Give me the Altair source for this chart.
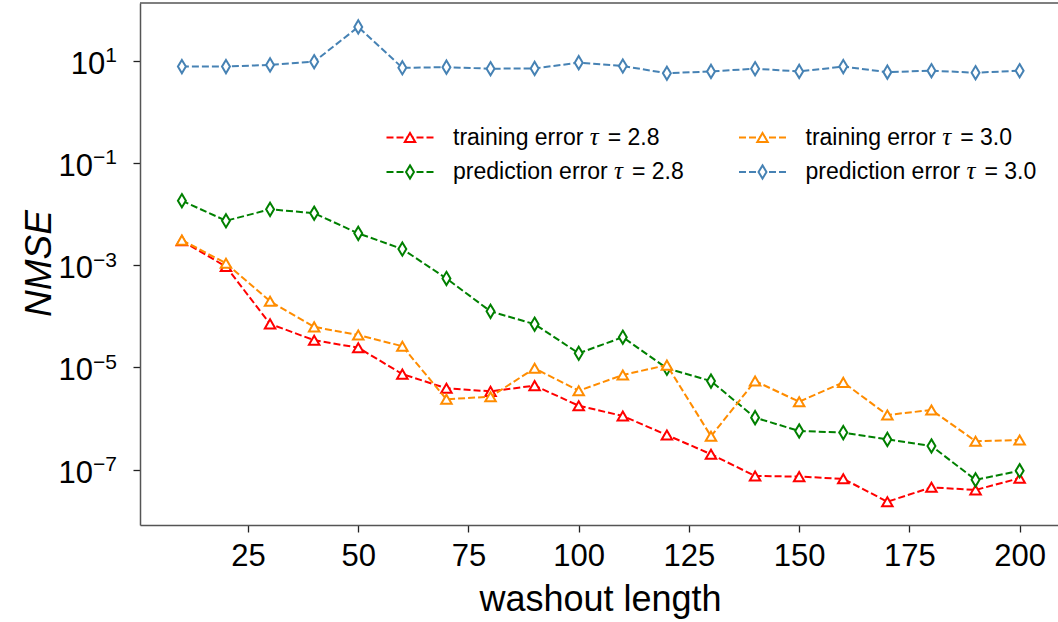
import altair as alt
import pandas as pd

# ---------------- data ----------------
washout = [10, 20, 30, 40, 50, 60, 70, 80, 90, 100,
           110, 120, 130, 140, 150, 160, 170, 180, 190, 200]

train_28 = [3.0e-3, 9.4e-4, 7.1e-5, 3.4e-5, 2.43e-5, 7.4e-6, 3.9e-6, 3.4e-6, 4.4e-6, 1.78e-6,
            1.12e-6, 4.75e-7, 2.0e-7, 7.5e-8, 7.3e-8, 6.6e-8, 2.35e-8, 4.5e-8, 4.0e-8, 6.8e-8]
pred_28 = [1.83e-2, 7.4e-3, 1.24e-2, 1.04e-2, 4.2e-3, 2.07e-3, 5.5e-4, 1.25e-4, 7.0e-5, 1.89e-5,
           3.9e-5, 9.6e-6, 5.4e-6, 1.04e-6, 5.7e-7, 5.3e-7, 3.9e-7, 2.9e-7, 6.3e-8, 9.5e-8]
train_30 = [3.1e-3, 1.09e-3, 1.97e-4, 6.2e-5, 4.3e-5, 2.6e-5, 2.38e-6, 2.67e-6, 9.6e-6, 3.5e-6,
            7.1e-6, 1.11e-5, 4.5e-7, 5.4e-6, 2.13e-6, 5.1e-6, 1.17e-6, 1.47e-6, 3.6e-7, 3.8e-7]
pred_30 = [7.7, 7.7, 8.3, 9.6, 46.0, 7.3, 7.5, 7.0, 7.1, 9.2,
           7.9, 5.7, 6.2, 7.0, 6.2, 7.7, 6.0, 6.4, 5.85, 6.4]

series_prefix = ["training error", "prediction error", "training error", "prediction error"]
series_tau = ["2.8", "2.8", "3.0", "3.0"]
series_values = [train_28, pred_28, train_30, pred_30]
series_colors = ["#ff0000", "#008000", "#ff8c00", "#4682b4"]

x_ticks = [25, 50, 75, 100, 125, 150, 175, 200]
y_tick_exps = [1, -1, -3, -5, -7]

# ---------------- layout ----------------
FONT = "Liberation Sans"
W, H = 918, 522
THIN_DIAMOND = "M0,-1L0.6,0L0,1L-0.6,0Z"
series_shapes = ["triangle-up", THIN_DIAMOND, "triangle-up", THIN_DIAMOND]
series_sizes = [110, 175, 110, 175]

# Arial / Liberation Sans advance widths (em)
ADV = {"t": .278, "r": .333, "a": .556, "i": .222, "n": .556, "g": .556, " ": .278,
       "e": .556, "o": .556, "p": .556, "d": .556, "c": .5, "=": .584, ".": .278}
for ch in "0123456789":
    ADV[ch] = .556


def text_width(s, fs):
    return sum(ADV.get(ch, .556) for ch in s) * fs


x_scale = alt.Scale(domain=[0.5, 208.7], nice=False, zero=False)
y_scale = alt.Scale(type="log", domain=[10 ** -8.084, 10 ** 2.131], nice=False)

x_axis = alt.Axis(values=x_ticks, grid=False, labelFont=FONT, labelFontSize=31,
                  labelColor="black", labelPadding=9, tickSize=7, tickWidth=1.3,
                  tickColor="#222", domainColor="#555", domainWidth=1.5,
                  title="washout length", titleFont=FONT, titleFontSize=36,
                  titleFontWeight="normal", titleColor="black", titleX=460, titleY=85,
                  titleAlign="center", titleBaseline="alphabetic")
y_axis = alt.Axis(values=[10.0 ** e for e in y_tick_exps], grid=False, labels=False,
                  tickSize=7, tickWidth=1.3, tickColor="#222", domainColor="#555",
                  domainWidth=1.5, title="NMSE", titleFont=FONT, titleFontSize=37,
                  titleFontStyle="italic", titleFontWeight="normal", titleColor="black",
                  titleX=-101, titleY=260, titleAlign="center", titleBaseline="middle",
                  titleAngle=-90)

layers = []
for vals, col, shp, sz in zip(series_values, series_colors, series_shapes, series_sizes):
    df = pd.DataFrame({"x": washout, "y": vals})
    base = alt.Chart(df).encode(
        x=alt.X("x:Q", scale=x_scale, axis=x_axis),
        y=alt.Y("y:Q", scale=y_scale, axis=y_axis),
    )
    layers.append(base.mark_line(color=col, strokeWidth=2, strokeDash=[7, 3]))
    layers.append(base.mark_point(shape=shp, size=sz, filled=False, fill="white",
                                  fillOpacity=1, stroke=col, strokeWidth=2, opacity=1))

# y tick labels as 10 + superscript exponent
EXP_FS = 21
BASE_FS = 31
LABEL_RIGHT = -23
for e in y_tick_exps:
    exp_txt = str(e).replace("-", "\u2212")
    exp_w = EXP_FS * (0.584 * exp_txt.count("\u2212") + 0.556 * sum(c.isdigit() for c in exp_txt))
    one = pd.DataFrame({"v": [10.0 ** e]})
    enc_y = alt.Y("v:Q", scale=y_scale, axis=y_axis)
    layers.append(alt.Chart(one).mark_text(text="10", font=FONT, fontSize=BASE_FS,
                                           align="right", baseline="alphabetic", dy=13,
                                           color="black")
                  .encode(y=enc_y, x=alt.value(LABEL_RIGHT - exp_w)))
    layers.append(alt.Chart(one).mark_text(text=exp_txt, font=FONT, fontSize=EXP_FS,
                                           align="right", baseline="alphabetic", dy=1.5,
                                           color="black")
                  .encode(y=enc_y, x=alt.value(LABEL_RIGHT)))

# top spine
layers.append(alt.Chart(pd.DataFrame({"a": [0]})).mark_rule(color="#555", strokeWidth=1.5)
              .encode(y=alt.value(0), x=alt.value(0), x2=alt.value(W)))

# legend (2 columns, column-first order)
LEG_FS = 23
TAU_W = 0.5 * LEG_FS
SP = 0.278 * LEG_FS
COL_X0 = 246.5
COL_DX = 352.5
ROW_Y0 = 134.5
ROW_DY = 34.5
dummy = pd.DataFrame({"a": [0]})
for i, (pre, tau, col, shp, sz) in enumerate(zip(series_prefix, series_tau, series_colors,
                                                  series_shapes, series_sizes)):
    c, r = i // 2, i % 2
    lx = COL_X0 + c * COL_DX
    ly = ROW_Y0 + r * ROW_DY
    tx = lx + 66.5
    layers.append(alt.Chart(dummy).mark_rule(color=col, strokeWidth=2, strokeDash=[7, 3])
                  .encode(x=alt.value(lx), x2=alt.value(lx + 47), y=alt.value(ly)))
    layers.append(alt.Chart(dummy).mark_point(shape=shp, size=sz, fill="white", fillOpacity=1,
                                              stroke=col, strokeWidth=2, opacity=1)
                  .encode(x=alt.value(lx + 23.5), y=alt.value(ly)))
    layers.append(alt.Chart(dummy).mark_text(text=pre, font=FONT, fontSize=LEG_FS, align="left",
                                             baseline="middle", color="black")
                  .encode(x=alt.value(tx), y=alt.value(ly)))
    tau_x = tx + text_width(pre, LEG_FS) + SP
    layers.append(alt.Chart(dummy).mark_text(text="\u03c4", font="Liberation Serif",
                                             fontStyle="italic", fontSize=LEG_FS + 2,
                                             align="left", baseline="middle", color="black")
                  .encode(x=alt.value(tau_x), y=alt.value(ly - 1)))
    layers.append(alt.Chart(dummy).mark_text(text="= " + tau, font=FONT, fontSize=LEG_FS,
                                             align="left", baseline="middle", color="black")
                  .encode(x=alt.value(tau_x + TAU_W + SP), y=alt.value(ly)))

chart = alt.layer(*layers).properties(
    width=W, height=H,
    autosize=alt.AutoSizeParams(type="none"),
    padding={"left": 140, "top": 3, "right": 0, "bottom": 97},
    background="white",
).configure_view(stroke=None)

chart.save("out.html", embed_options={"renderer": "svg", "actions": False})
